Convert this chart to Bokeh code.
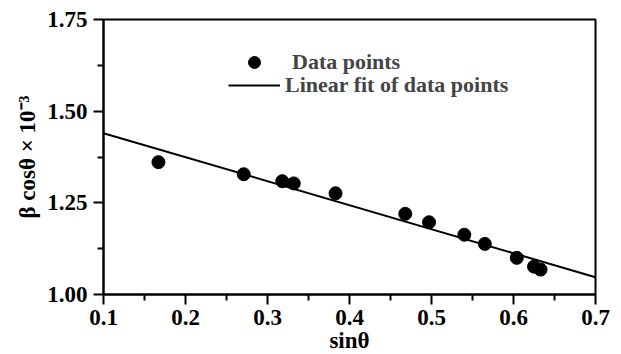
from bokeh.plotting import figure
from bokeh.models import Range1d, FixedTicker, PrintfTickFormatter, Legend, LegendItem
from bokeh.embed import file_html
from bokeh.resources import INLINE

# data
sin_theta = [0.167, 0.271, 0.318, 0.332, 0.383, 0.468, 0.497, 0.540, 0.565, 0.604, 0.625, 0.633]
beta_cos = [1.361, 1.328, 1.309, 1.303, 1.276, 1.220, 1.197, 1.163, 1.138, 1.100, 1.076, 1.068]
fit_x = [0.1, 0.7]
fit_y = [1.440, 1.047]
x_ticks = [0.1, 0.2, 0.3, 0.4, 0.5, 0.6, 0.7]
x_minor = [0.15, 0.25, 0.35, 0.45, 0.55, 0.65]
y_ticks = [1.00, 1.25, 1.50, 1.75]
y_minor = [1.125, 1.375, 1.625]

FONT = "Liberation Serif"

p = figure(width=621, height=354, output_backend="svg", toolbar_location=None,
           x_range=Range1d(0.1, 0.7), y_range=Range1d(1.0, 1.75),
           frame_width=492, frame_height=275,
           min_border_left=103, min_border_top=19, min_border_right=26, min_border_bottom=60)
p.background_fill_color = "white"
p.border_fill_color = "white"
p.outline_line_color = "black"
p.outline_line_width = 2
p.grid.visible = False

p.xaxis.ticker = FixedTicker(ticks=x_ticks, minor_ticks=x_minor)
p.yaxis.ticker = FixedTicker(ticks=y_ticks, minor_ticks=y_minor)
p.xaxis.formatter = PrintfTickFormatter(format="%.1f")
p.yaxis.formatter = PrintfTickFormatter(format="%.2f")

for ax in (p.xaxis[0], p.yaxis[0]):
    ax.axis_line_width = 2
    ax.axis_line_color = "black"
    ax.major_tick_line_width = 2
    ax.minor_tick_line_width = 2
    ax.major_tick_in = 0
    ax.major_tick_out = 10
    ax.minor_tick_in = 0
    ax.minor_tick_out = 6
    ax.major_label_text_font = FONT
    ax.major_label_text_font_style = "bold"
    ax.major_label_text_font_size = "23px"
    ax.major_label_text_color = "black"
    ax.axis_label_text_font = FONT
    ax.axis_label_text_font_style = "bold"
    ax.axis_label_text_font_size = "23px"
    ax.axis_label_text_color = "black"

p.xaxis.axis_label = "sinθ"
p.yaxis.axis_label = "β cosθ × 10⁻³"
p.xaxis.major_label_standoff = 5
p.yaxis.major_label_standoff = 6
p.xaxis.axis_label_standoff = 0
p.yaxis.axis_label_standoff = 4

line = p.line(fit_x, fit_y, line_color="black", line_width=2)
pts = p.scatter(sin_theta, beta_cos, size=13, marker="circle", fill_color="black", line_color="black")

leg_a = Legend(items=[LegendItem(label="Data points", renderers=[pts])],
               location=(125, 217), glyph_width=52, glyph_height=30, label_standoff=12,
               padding=0, margin=0, border_line_color=None, background_fill_alpha=0,
               label_text_font=FONT, label_text_font_style="bold", label_text_font_size="22px")
leg_b = Legend(items=[LegendItem(label="Linear fit of data points", renderers=[line])],
               location=(125, 196), glyph_width=52, glyph_height=20, label_standoff=5,
               padding=0, margin=0, border_line_color=None, background_fill_alpha=0,
               label_text_font=FONT, label_text_font_style="bold", label_text_font_size="22px")
p.add_layout(leg_a, "center")
p.add_layout(leg_b, "center")

open("out.html", "w").write(file_html(p, INLINE))
